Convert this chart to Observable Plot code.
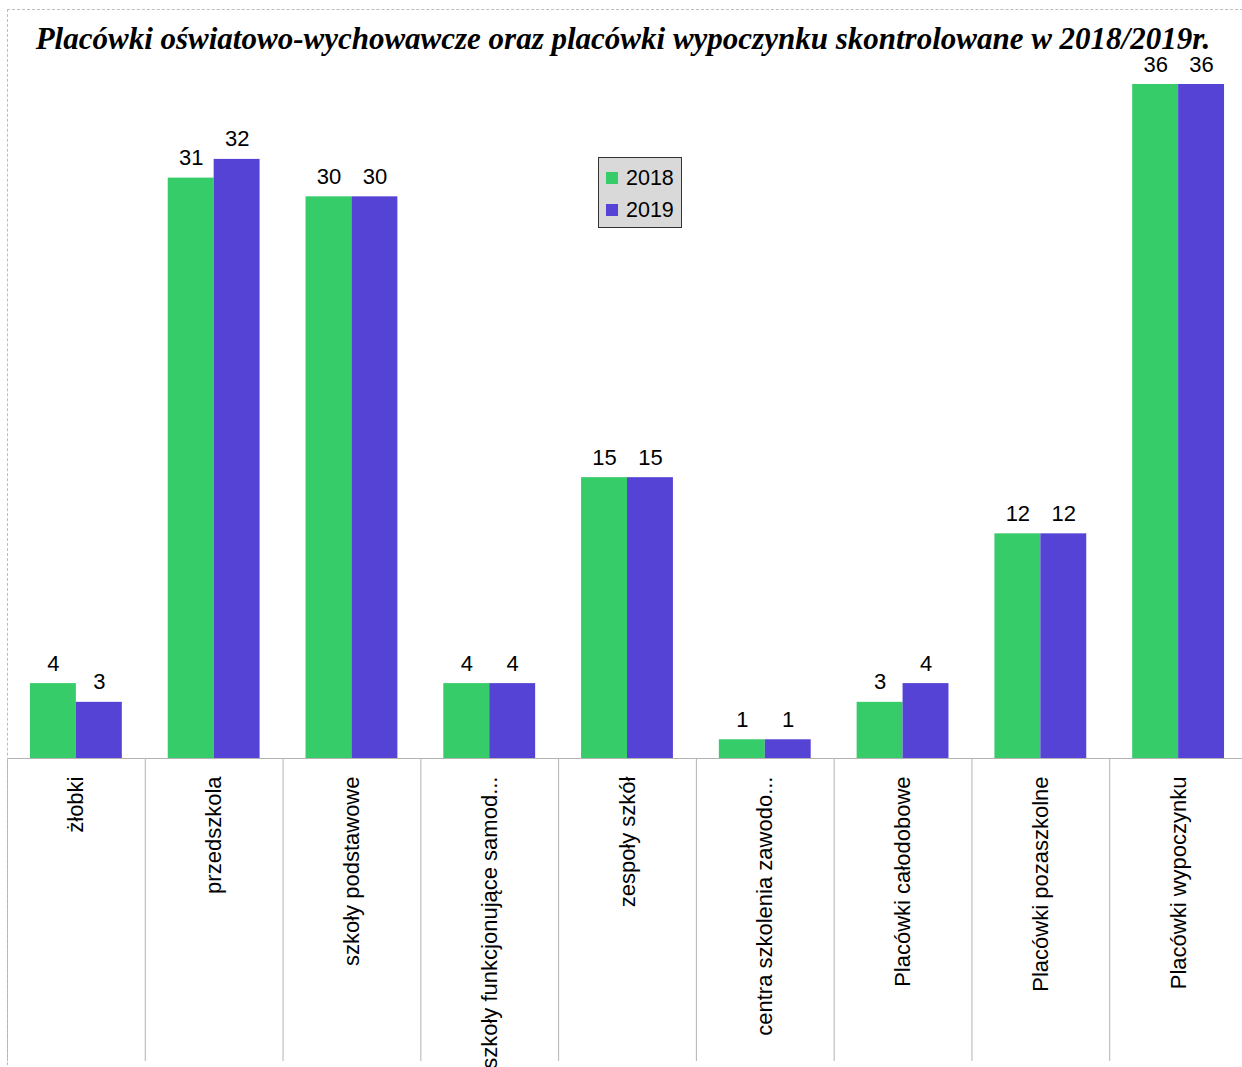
<!DOCTYPE html>
<html>
<head>
<meta charset="utf-8">
<script src="https://cdn.jsdelivr.net/npm/d3@7"></script>
<script src="https://cdn.jsdelivr.net/npm/@observablehq/plot@0.6"></script>
<style>
  html, body { margin: 0; padding: 0; background: #fff; overflow: hidden; }
  #wrap { position: relative; width: 1242px; height: 1067px; }
  #border { position: absolute; left: 7px; top: 9px; width: 1300px; height: 1100px;
            border-top: 1px dashed #bdbdbd; border-left: 1px dashed #bdbdbd; pointer-events: none; }
  #title { position: absolute; left: 0; top: 27px; width: 1246px; text-align: center;
           font-family: "Liberation Serif", serif; font-weight: bold; font-style: italic;
           font-size: 31px; line-height: 24px; height: 24px; color: #000; white-space: nowrap; }
  #legend { position: absolute; left: 598px; top: 157px; width: 84px; height: 71px;
            background: #d9d9d9; border: 1px solid #333; box-sizing: border-box;
            font-family: "Liberation Sans", sans-serif; font-size: 21.5px; color: #000; }
  .item { position: absolute; left: 7px; height: 24px; line-height: 24px; }
  .sw { display: inline-block; width: 12px; height: 12px; margin-right: 8px; vertical-align: 1px; }
  #chart { position: absolute; left: 0; top: 0; }
</style>
</head>
<body>
<div id="wrap">
  <div id="chart"></div>
  <div id="border"></div>
  <div id="title"></div>
  <div id="legend"></div>
</div>
<script>
const titleText = "Placówki oświatowo-wychowawcze oraz placówki wypoczynku skontrolowane w 2018/2019r.";
const categories = [
  "żłobki",
  "przedszkola",
  "szkoły podstawowe",
  "szkoły funkcjonujące samod...",
  "zespoły szkół",
  "centra szkolenia zawodo...",
  "Placówki całodobowe",
  "Placówki pozaszkolne",
  "Placówki wypoczynku"
];
const years = ["2018", "2019"];
const values2018 = [4, 31, 30, 4, 15, 1, 3, 12, 36];
const values2019 = [3, 32, 30, 4, 15, 1, 4, 12, 36];
const colors = ["#36cc69", "#5543d6"];

const data = categories.flatMap((c, i) => [
  {cat: c, year: years[0], value: values2018[i]},
  {cat: c, year: years[1], value: values2019[i]}
]);

document.getElementById("title").textContent = titleText;

const legend = document.getElementById("legend");
years.forEach((y, i) => {
  const it = document.createElement("div");
  it.className = "item";
  it.style.top = (8 + i * 32) + "px";
  it.innerHTML = `<span class="sw" style="background:${colors[i]}"></span>${y}`;
  legend.appendChild(it);
});

const chart = Plot.plot({
  width: 1242,
  height: 1067,
  marginTop: 84,
  marginBottom: 309,
  marginLeft: 7,
  marginRight: -5,
  fx: {domain: categories, padding: 0, label: null, range: [7, 1247], round: false},
  x: {domain: years, paddingInner: 0, paddingOuter: 0.5, axis: null, round: false},
  y: {domain: [0, 36], axis: null},
  color: {domain: years, range: colors},
  style: {fontFamily: "'Liberation Sans', Arial, sans-serif", fontSize: "22px", color: "#000", background: "transparent", overflow: "visible"},
  marks: [
    Plot.barY(data, {fx: "cat", x: "year", y: "value", fill: "year"}),
    Plot.text(data, {fx: "cat", x: "year", y: "value", text: d => String(d.value),
      lineAnchor: "bottom", dy: -13, fontSize: 22, fill: "#000"}),
    Plot.frame({anchor: "left", stroke: "#b3b3b3", insetTop: 674, insetBottom: -302}),
    Plot.ruleY([0], {stroke: "#b3b3b3"}),
    Plot.axisFx({anchor: "bottom", tickRotate: -90, tickSize: 0, tickPadding: 18,
      fontSize: 22, label: null, fill: "#000"})
  ]
});
document.getElementById("chart").appendChild(chart);
</script>
</body>
</html>
